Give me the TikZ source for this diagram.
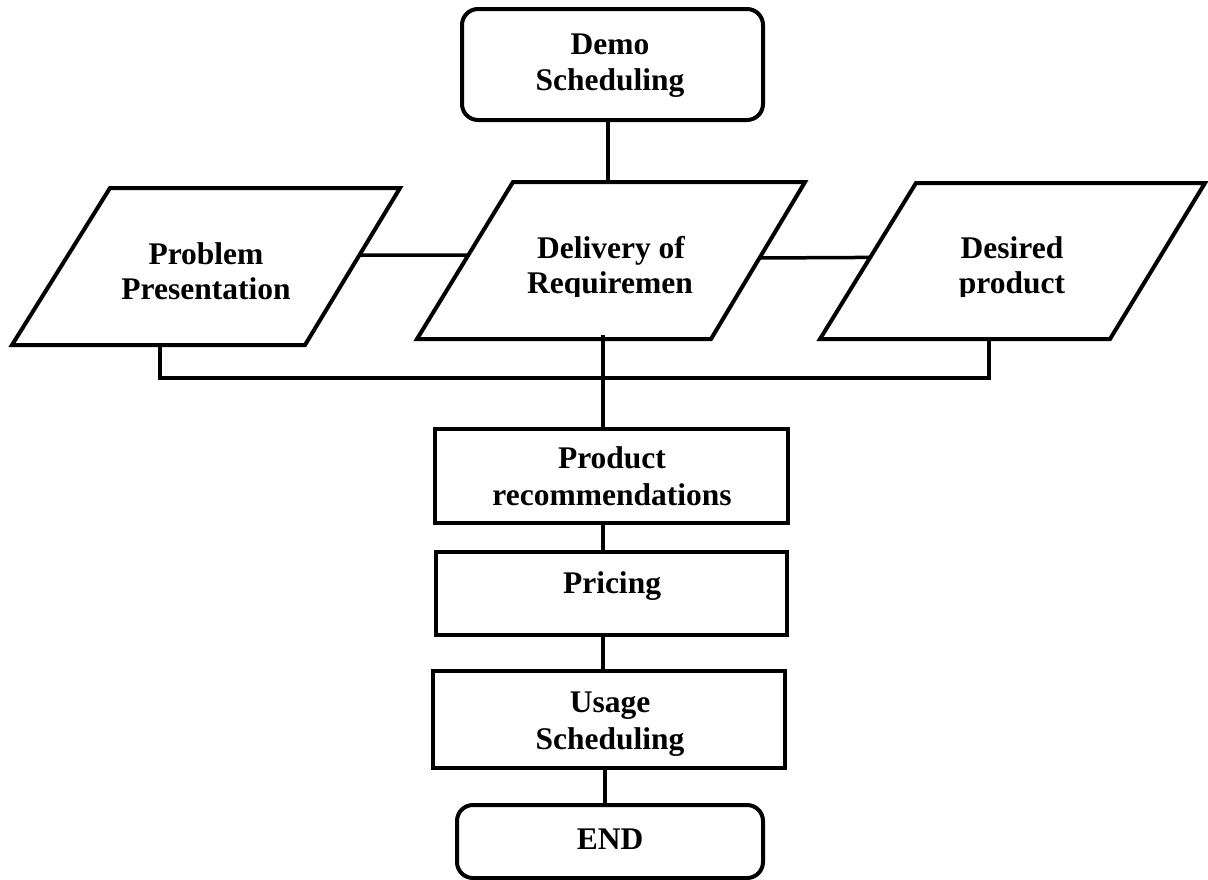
\documentclass[tikz,border=0pt]{standalone}
\usepackage{fontspec}
\setmainfont{Liberation Serif}
\usetikzlibrary{calc}
\begin{document}
\begin{tikzpicture}[x=1pt,y=-1pt,
  box/.style={draw,line width=4pt,inner sep=0pt,outer sep=0pt,fill=white},
  rbox/.style={box,rounded corners=16pt},
  para/.style={draw,line width=4pt,line join=miter},
  conn/.style={line width=3.5pt},
  lbl/.style={font=\fontsize{31.5}{36}\selectfont\bfseries,anchor=base,inner sep=0pt}]
\useasboundingbox (0,0) rectangle (1208,879);

% parallelogram corners
\coordinate (pb-tl) at (110,188); \coordinate (pb-tr) at (400,188);
\coordinate (pb-br) at (305,345); \coordinate (pb-bl) at (12,345);
\coordinate (dl-tl) at (513,182); \coordinate (dl-tr) at (805,182);
\coordinate (dl-br) at (711,339); \coordinate (dl-bl) at (417,339);
\coordinate (ds-tl) at (916,183); \coordinate (ds-tr) at (1205,183);
\coordinate (ds-br) at (1110,339); \coordinate (ds-bl) at (820,339);

% connector anchor points
\coordinate (probR) at ($(pb-tr)!0.427!(pb-br)$);
\coordinate (delL) at ($(dl-tl)!0.465!(dl-bl)$);
\coordinate (delR) at ($(dl-tr)!0.484!(dl-br)$);
\coordinate (desL) at ($(ds-tl)!0.477!(ds-bl)$);
\coordinate (delTop) at (608,183);
\coordinate (delBot) at (603,335);
\coordinate (probBot) at (160,345);
\coordinate (desBot) at (989,339);
\coordinate (busL) at (160,378);
\coordinate (busR) at (989,378);

% rectangles
\node[rbox,minimum width=301pt,minimum height=111pt] (demo) at (612.5,64.5) {};
\node[box,minimum width=353pt,minimum height=94pt] (prod) at (611.5,476) {};
\node[box,minimum width=351pt,minimum height=83pt] (price) at (611.5,593.5) {};
\node[box,minimum width=352pt,minimum height=97pt] (usage) at (609,719.5) {};
\node[rbox,minimum width=306pt,minimum height=73pt] (end) at (610,841.5) {};

% parallelograms
\draw[para] (pb-tl) -- (pb-tr) -- (pb-br) -- (pb-bl) -- cycle;
\draw[para] (dl-tl) -- (dl-tr) -- (dl-br) -- (dl-bl) -- cycle;
\draw[para] (ds-tl) -- (ds-tr) -- (ds-br) -- (ds-bl) -- cycle;

% connectors
\draw[conn] (demo.south -| delTop) -- (delTop);
\draw[conn] (probR) -- (delL);
\draw[conn] (delR) -- (desL);
\draw[conn] (probBot) -- (busL) -- (busR) -- (desBot);
\draw[conn] (delBot) -- (delBot |- prod.north);
\draw[conn] (prod.south -| 603,0) -- (price.north -| 603,0);
\draw[conn] (603,640) -- (price.south -| 603,0) (603,640) -- (usage.north -| 603,0);
\draw[conn] (usage.south -| 605,0) -- (end.north -| 605,0);

% labels
\node[lbl] (t-demo1) at (610,54) {Demo};
\node[lbl] (t-demo2) at (610,90) {Scheduling};
\node[lbl] (t-prob1) at (206,264) {Problem};
\node[lbl] (t-prob2) at (206,299) {Presentation};
\node[lbl] (t-del1) at (611,258) {Delivery of};
\node[lbl] (t-des1) at (1012,258) {Desired};
\begin{scope}
  \clip (400,150) rectangle (1208,296);
  \node[lbl] (t-del2) at (610,293) {Requiremen};
  \node[lbl] (t-des2) at (1012,293) {product};
\end{scope}
\node[lbl] (t-prod1) at (612,468) {Product};
\node[lbl] (t-prod2) at (612,505) {recommendations};
\node[lbl] (t-price) at (612,593) {Pricing};
\node[lbl] (t-use1) at (610,712) {Usage};
\node[lbl] (t-use2) at (610,749) {Scheduling};
\node[lbl] (t-end) at (610,849) {END};
\end{tikzpicture}
\end{document}
